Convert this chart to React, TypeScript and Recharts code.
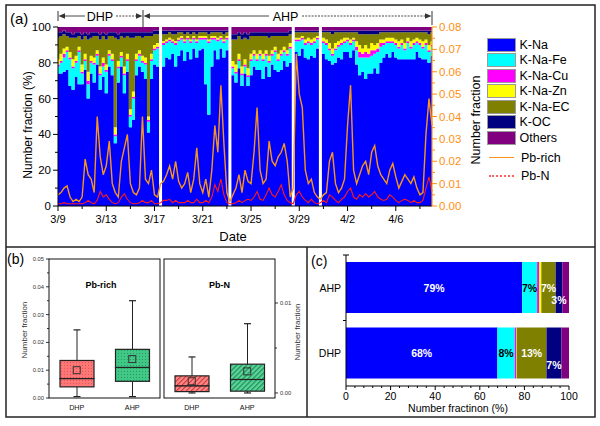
import React from 'react';
import { ComposedChart, BarChart, Bar, Area, Line, XAxis, YAxis, Legend, Scatter, LabelList } from 'recharts';

const FONT = '"Liberation Sans", Arial, sans-serif';

// ---------- Panel (a): time series, 4 samples per day from 3/9 ----------
const dateLabels = ['3/9', '3/13', '3/17', '3/21', '3/25', '3/29', '4/2', '4/6'];

const kNa = [
  74, 74, 75, 76, 67, 65, 72, 68,
  68, 76, 60, 74, 69, 79, 65, 72,
  63, 78, 73, 35, 69, 78, 63, 75,
  44, 48, 73, 78, 75, 71, 41, 71,
  79, 78, 0, 78, 83, 82, 85, 78,
  84, 87, 81, 86, 82, 88, 83, 87,
  88, 68, 51, 78, 87, 82, 88, 83,
  87, 0, 73, 69, 77, 67, 74, 67,
  73, 78, 76, 76, 71, 78, 72, 79,
  76, 75, 76, 81, 78, 80, 0, 86,
  84, 88, 83, 82, 84, 83, 88, 0,
  85, 82, 81, 79, 80, 83, 82, 86,
  86, 83, 87, 79, 73, 75, 71, 74,
  74, 77, 74, 80, 83, 85, 83, 86,
  83, 82, 82, 82, 82, 82, 82, 86,
  83, 82, 82, 80, 84,
];
const kNaFe = [
  4, 6, 8, 10, 15, 12, 8, 18,
  6, 5, 8, 6, 10, 5, 8, 6,
  12, 6, 8, 4, 8, 5, 10, 6,
  6, 12, 8, 6, 5, 8, 6, 10,
  8, 10, 0, 12, 8, 10, 6, 12,
  8, 6, 10, 7, 9, 5, 8, 6,
  5, 25, 40, 15, 6, 10, 5, 8,
  6, 0, 4, 5, 4, 6, 4, 5,
  8, 6, 5, 8, 10, 6, 8, 5,
  10, 6, 8, 5, 6, 8, 0, 6,
  8, 5, 7, 9, 6, 8, 5, 0,
  6, 8, 6, 5, 7, 6, 8, 5,
  6, 7, 5, 8, 10, 8, 12, 9,
  10, 8, 12, 9, 7, 6, 8, 5,
  7, 6, 8, 5, 9, 6, 8, 5,
  7, 6, 8, 6, 5,
];
const kNaCu = [
  1, 1, 2, 1, 1, 1, 1, 1,
  1, 1, 2, 1, 1, 1, 1, 2,
  1, 1, 1, 1, 1, 1, 1, 1,
  1, 1, 1, 1, 1, 1, 1, 1,
  1, 1, 0, 1, 1, 1, 1, 1,
  1, 1, 1, 1, 1, 1, 1, 1,
  1, 1, 1, 1, 1, 1, 1, 1,
  1, 0, 1, 1, 1, 1, 1, 1,
  1, 1, 1, 1, 1, 1, 1, 1,
  1, 1, 1, 1, 1, 1, 0, 1,
  1, 1, 1, 1, 1, 1, 1, 0,
  1, 1, 1, 1, 1, 1, 1, 1,
  1, 1, 1, 2, 3, 2, 3, 2,
  3, 2, 2, 2, 1, 1, 1, 1,
  1, 1, 1, 1, 1, 1, 1, 1,
  1, 1, 1, 1, 1,
];
const kNaZn = [
  3, 4, 3, 2, 3, 4, 3, 2,
  4, 3, 5, 3, 3, 2, 4, 3,
  3, 2, 3, 4, 3, 2, 4, 3,
  3, 3, 3, 2, 3, 3, 2, 3,
  2, 2, 0, 1, 1, 1, 1, 1,
  1, 1, 1, 1, 1, 1, 1, 1,
  1, 1, 1, 1, 1, 1, 1, 1,
  1, 0, 3, 4, 3, 4, 3, 4,
  3, 2, 3, 2, 3, 2, 3, 2,
  2, 3, 2, 2, 2, 2, 0, 1,
  1, 1, 2, 2, 2, 2, 1, 0,
  2, 2, 3, 3, 3, 2, 2, 2,
  1, 2, 1, 3, 4, 3, 4, 3,
  4, 3, 3, 2, 2, 2, 2, 2,
  2, 3, 2, 3, 2, 3, 2, 2,
  2, 3, 2, 3, 2,
];
const kNaEC = [
  12, 10, 8, 6, 8, 12, 10, 6,
  14, 10, 18, 10, 12, 8, 15, 12,
  14, 8, 10, 50, 12, 9, 16, 10,
  40, 30, 10, 8, 10, 12, 45, 10,
  6, 5, 0, 4, 3, 3, 3, 4,
  3, 2, 3, 2, 3, 2, 3, 2,
  2, 2, 3, 2, 2, 3, 2, 3,
  2, 0, 12, 14, 10, 15, 12, 16,
  10, 8, 10, 8, 10, 8, 10, 8,
  6, 10, 8, 6, 8, 5, 0, 3,
  3, 2, 4, 3, 4, 3, 2, 0,
  3, 4, 6, 8, 6, 5, 4, 3,
  3, 4, 3, 5, 6, 8, 6, 8,
  5, 6, 5, 4, 4, 3, 3, 3,
  4, 5, 4, 6, 3, 5, 4, 3,
  4, 5, 4, 6, 5,
];
const kOC = [
  3, 2, 2, 2, 3, 2, 3, 2,
  3, 2, 3, 3, 2, 2, 3, 2,
  3, 2, 2, 3, 3, 2, 3, 2,
  3, 3, 2, 2, 3, 2, 2, 2,
  2, 2, 0, 2, 2, 1, 2, 2,
  1, 1, 2, 1, 2, 1, 2, 1,
  1, 1, 2, 1, 1, 1, 1, 2,
  1, 0, 3, 3, 2, 3, 3, 3,
  2, 2, 2, 2, 2, 2, 3, 2,
  2, 2, 2, 2, 2, 2, 0, 1,
  1, 1, 1, 1, 1, 1, 1, 0,
  1, 1, 1, 2, 1, 1, 1, 1,
  1, 1, 1, 1, 2, 2, 2, 2,
  2, 2, 2, 1, 1, 1, 1, 1,
  1, 1, 1, 1, 1, 1, 1, 1,
  1, 1, 1, 2, 1,
];
const others = [
  3, 3, 2, 3, 3, 4, 3, 3,
  4, 3, 4, 3, 3, 3, 4, 3,
  4, 3, 3, 3, 4, 3, 3, 3,
  3, 3, 3, 3, 3, 3, 3, 3,
  2, 2, 0, 2, 2, 2, 2, 2,
  2, 2, 2, 2, 2, 2, 2, 2,
  2, 2, 2, 2, 2, 2, 2, 2,
  2, 0, 4, 4, 3, 4, 3, 4,
  3, 3, 3, 3, 3, 3, 3, 3,
  3, 3, 3, 3, 3, 2, 0, 2,
  2, 2, 2, 2, 2, 2, 2, 0,
  2, 2, 2, 2, 2, 2, 2, 2,
  2, 2, 2, 2, 2, 2, 2, 2,
  2, 2, 2, 2, 2, 2, 2, 2,
  2, 2, 2, 2, 2, 2, 2, 2,
  2, 2, 2, 2, 2,
];
const pbRich = [
  0.005, 0.006, 0.008, 0.009, 0.004, 0.002, 0.003, 0.002,
  0.004, 0.021, 0.014, 0.012, 0.006, 0.040, 0.022, 0.014,
  0.018, 0.029, 0.010, 0.006, 0.004, 0.020, 0.026, 0.032,
  0.010, 0.006, 0.005, 0.008, 0.040, 0.012, 0.010, 0.016,
  0.005, 0.004, 0.010, 0.011, 0.014, 0.018, 0.012, 0.020,
  0.011, 0.008, 0.010, 0.015, 0.006, 0.012, 0.026, 0.010,
  0.006, 0.012, 0.004, 0.016, 0.036, 0.024, 0.054, 0.028,
  0.006, 0.002, 0.005, 0.008, 0.014, 0.006, 0.016, 0.011,
  0.010, 0.024, 0.044, 0.016, 0.010, 0.012, 0.029, 0.020,
  0.018, 0.022, 0.024, 0.028, 0.020, 0.004, 0.008, 0.068,
  0.050, 0.044, 0.016, 0.010, 0.012, 0.006, 0.004, 0.003,
  0.005, 0.006, 0.020, 0.024, 0.010, 0.006, 0.008, 0.012,
  0.036, 0.054, 0.016, 0.010, 0.014, 0.018, 0.020, 0.014,
  0.024, 0.027, 0.018, 0.014, 0.012, 0.010, 0.016, 0.019,
  0.013, 0.008, 0.011, 0.014, 0.012, 0.010, 0.013, 0.008,
  0.005, 0.006, 0.032, 0.048, 0.036,
];
const pbN = [
  0.001, 0.001, 0.0015, 0.001, 0.001, 0.001, 0.001, 0.001,
  0.001, 0.0015, 0.0025, 0.0015, 0.001, 0.0025, 0.0065, 0.004,
  0.005, 0.003, 0.0015, 0.001, 0.0015, 0.004, 0.0055, 0.003,
  0.0015, 0.001, 0.001, 0.0015, 0.0025, 0.0015, 0.0015, 0.0025,
  0.001, 0.001, 0.0015, 0.0025, 0.0025, 0.003, 0.0015, 0.0025,
  0.0015, 0.0015, 0.0015, 0.0025, 0.0015, 0.0015, 0.003, 0.0015,
  0.0015, 0.0025, 0.0015, 0.004, 0.0095, 0.0065, 0.012, 0.005,
  0.0015, 0.001, 0.001, 0.0015, 0.0025, 0.0015, 0.0025, 0.003,
  0.0025, 0.004, 0.0065, 0.003, 0.0025, 0.005, 0.008, 0.005,
  0.004, 0.0065, 0.0095, 0.005, 0.0025, 0.0015, 0.001, 0.005,
  0.0065, 0.004, 0.0025, 0.0015, 0.003, 0.0015, 0.001, 0.0015,
  0.0025, 0.0015, 0.005, 0.004, 0.0025, 0.0015, 0.003, 0.004,
  0.0065, 0.008, 0.004, 0.003, 0.005, 0.004, 0.0055, 0.004,
  0.005, 0.0065, 0.004, 0.003, 0.0025, 0.003, 0.005, 0.004,
  0.0025, 0.0015, 0.0025, 0.003, 0.0025, 0.0015, 0.0025, 0.0015,
  0.0015, 0.0025, 0.008, 0.013, 0.0065,
];

const xTicks = [0, 8, 16, 24, 32, 40, 48, 56, 64, 72, 80, 88, 96, 104, 112, 120];
const leftTicks = [0, 10, 20, 30, 40, 50, 60, 70, 80, 90, 100];
const rightTicks = [0, 0.005, 0.01, 0.015, 0.02, 0.025, 0.03, 0.035, 0.04, 0.045, 0.05, 0.055, 0.06, 0.065, 0.07, 0.075, 0.08];

const stackSeries = [
  { key: 'kNa', name: 'K-Na', color: '#0000FF', values: kNa },
  { key: 'fe', name: 'K-Na-Fe', color: '#00FFFF', values: kNaFe },
  { key: 'cu', name: 'K-Na-Cu', color: '#FF00FF', values: kNaCu },
  { key: 'zn', name: 'K-Na-Zn', color: '#FFFF00', values: kNaZn },
  { key: 'ec', name: 'K-Na-EC', color: '#808000', values: kNaEC },
  { key: 'oc', name: 'K-OC', color: '#000080', values: kOC },
  { key: 'oth', name: 'Others', color: '#800080', values: others },
];
const lineSeries = [
  { key: 'pbRich', name: 'Pb-rich', color: '#F7941D', values: pbRich, width: 1.4 },
  { key: 'pbN', name: 'Pb-N', color: '#FF1A1A', values: pbN, width: 1.1 },
];

const timeData = kNa.map((_, i) => {
  const row: any = { i };
  stackSeries.forEach((s) => { row[s.key] = s.values[i]; });
  lineSeries.forEach((s) => { row[s.key] = s.values[i]; });
  return row;
});

// ---------- Panel (b): box plots ----------
const boxCats = ['DHP', 'AHP'];
const pbRichMin = [0.0005, 0.0005];
const pbRichQ1 = [0.004, 0.006];
const pbRichMed = [0.007, 0.011];
const pbRichQ3 = [0.0135, 0.0175];
const pbRichMax = [0.0245, 0.035];
const pbRichMean = [0.010, 0.014];
const pbNMin = [0, 0];
const pbNQ1 = [0.00015, 0.0002];
const pbNMed = [0.0008, 0.0015];
const pbNQ3 = [0.0019, 0.0032];
const pbNMax = [0.0040, 0.0077];
const pbNMean = [0.0013, 0.0024];
const richTicks = [0, 0.005, 0.01, 0.015, 0.02, 0.025, 0.03, 0.035, 0.04, 0.045, 0.05];
const nTicks = [0, 0.005, 0.01];

const makeBoxRows = (mn: number[], q1: number[], md: number[], q3: number[], mx: number[], mean: number[], pats: string[]) =>
  boxCats.map((c, i) => ({
    cat: c,
    base: mn[i],
    lw: q1[i] - mn[i],
    lb: md[i] - q1[i],
    ub: q3[i] - md[i],
    uw: mx[i] - q3[i],
    mean: mean[i],
    pat: pats[i],
  }));
const richRows = makeBoxRows(pbRichMin, pbRichQ1, pbRichMed, pbRichQ3, pbRichMax, pbRichMean, ['dotRed', 'dotGreen']);
const nRows = makeBoxRows(pbNMin, pbNQ1, pbNMed, pbNQ3, pbNMax, pbNMean, ['hatchRed', 'hatchGreen']);

// ---------- Panel (c): average composition ----------
const compCats = ['AHP', 'DHP'];
const compKNa = [79.0, 67.9];
const compFe = [6.7, 7.8];
const compCu = [0.9, 0.7];
const compZn = [1.0, 0.2];
const compEC = [6.4, 13.3];
const compOC = [3.0, 6.7];
const compOth = [3.0, 3.4];
const compLabelKNa = ['79%', '68%'];
const compLabelFe = ['7%', '8%'];
const compLabelEC = ['7%', '13%'];
const compLabelOC = ['3%', '7%'];
const compTicks = [0, 4, 8, 12, 16, 20, 24, 28, 32, 36, 40, 44, 48, 52, 56, 60, 64, 68, 72, 76, 80, 84, 88, 92, 96, 100];

const compData = compCats.map((c, i) => ({
  cat: c,
  kNa: compKNa[i], fe: compFe[i], cu: compCu[i], zn: compZn[i], ec: compEC[i], oc: compOC[i], oth: compOth[i],
  lKNa: compLabelKNa[i], lFe: compLabelFe[i], lEC: compLabelEC[i], lOC: compLabelOC[i],
}));

// ---------- ticks ----------
const XTick = (p: any) => {
  const { x, y, payload } = p;
  const off = payload && payload.offset ? payload.offset : 0;
  const xx = x - off;
  const v = payload.value;
  const major = v % 16 === 0;
  return (
    <g>
      <line x1={xx} x2={xx} y1={y} y2={y + (major ? 5 : 3)} stroke="#000" strokeWidth={1} />
      {major && (
        <text x={xx} y={y + 17} textAnchor="middle" fontSize={11} fontFamily={FONT} fill="#000">{dateLabels[v / 16]}</text>
      )}
    </g>
  );
};
const LeftTick = (p: any) => {
  const { x, y, payload } = p;
  const v = payload.value;
  const major = v % 20 === 0;
  return (
    <g>
      <line x1={x - (major ? 5 : 3)} x2={x} y1={y} y2={y} stroke="#000" strokeWidth={1} />
      {major && (
        <text x={x - 7} y={y + 4} textAnchor="end" fontSize={11.5} fontFamily={FONT} fill="#000">{v}</text>
      )}
    </g>
  );
};
const RightTick = (p: any) => {
  const { x, y, payload } = p;
  const v = payload.value;
  const major = Math.round(v * 1000) % 10 === 0;
  return (
    <g>
      <line x1={x} x2={x + (major ? 5 : 3)} y1={y} y2={y} stroke="#FF9010" strokeWidth={1} />
      {major && (
        <text x={x + 7} y={y + 4} textAnchor="start" fontSize={11.5} fontFamily={FONT} fill="#FF9010">{v.toFixed(2)}</text>
      )}
    </g>
  );
};
const BoxLeftTick = (p: any) => {
  const { x, y, payload } = p;
  const v = payload.value;
  const major = Math.round(v * 1000) % 10 === 0;
  return (
    <g>
      <line x1={x - (major ? 3 : 2)} x2={x} y1={y} y2={y} stroke="#000" strokeWidth={0.8} />
      {major && (
        <text x={x - 5} y={y + 2} textAnchor="end" fontSize={5.8} fontFamily={FONT} fill="#333">{v.toFixed(2)}</text>
      )}
    </g>
  );
};
const BoxRightTick = (p: any) => {
  const { x, y, payload } = p;
  const v = payload.value;
  const major = Math.round(v * 1000) % 10 === 0;
  return (
    <g>
      <line x1={x} x2={x + (major ? 3 : 2)} y1={y} y2={y} stroke="#000" strokeWidth={0.8} />
      {major && (
        <text x={x + 5} y={y + 2} textAnchor="start" fontSize={5.8} fontFamily={FONT} fill="#333">{v.toFixed(2)}</text>
      )}
    </g>
  );
};
const BoxXTick = (p: any) => {
  const { x, y, payload } = p;
  return <text x={x} y={y + 12} textAnchor="middle" fontSize={7.2} fontFamily={FONT} fill="#111">{payload.value}</text>;
};
const CompXTick = (p: any) => {
  const { x, y, payload } = p;
  const v = payload.value;
  const major = v % 20 === 0;
  return (
    <g>
      <line x1={x} x2={x} y1={y} y2={y + (major ? 4 : 2)} stroke="#000" strokeWidth={1} />
      {major && (
        <text x={x} y={y + 14} textAnchor="middle" fontSize={10.5} fontFamily={FONT} fill="#000">{v}</text>
      )}
    </g>
  );
};
const CompYTick = (p: any) => {
  const { x, y, payload } = p;
  return <text x={x - 5} y={y + 4} textAnchor="end" fontSize={10.5} fontFamily={FONT} fill="#000">{payload.value}</text>;
};

// ---------- box plot shapes ----------
const whisker = (top: boolean) => (p: any) => {
  const { x, y, width, height } = p;
  if (width == null || y == null) return <g />;
  const cx = x + width / 2;
  const capY = top ? y : y + height;
  return (
    <g>
      <line x1={cx} x2={cx} y1={y} y2={y + height} stroke="#222" strokeWidth={1} />
      <line x1={cx - 3.5} x2={cx + 3.5} y1={capY} y2={capY} stroke="#222" strokeWidth={1.2} />
    </g>
  );
};
const boxShape = (p: any) => {
  const { x, y, width, height, payload } = p;
  if (width == null || y == null) return <g />;
  return <rect x={x} y={y} width={width} height={height} fill={`url(#${payload.pat})`} stroke="#222" strokeWidth={1.2} />;
};
const meanShape = (p: any) => (
  <rect x={p.cx - 3.5} y={p.cy - 3.5} width={7} height={7} fill="none" stroke="#333" strokeWidth={1} />
);

const BoxChart = ({ rows, right }: { rows: any[]; right: boolean }) => (
  <ComposedChart
    width={right ? 150 : 160}
    height={165}
    data={rows}
    margin={right ? { top: 9, right: 11, left: 6, bottom: 0 } : { top: 9, right: 6, left: 23, bottom: 0 }}
  >
    <XAxis dataKey="cat" type="category" axisLine={false} tickLine={false} tickSize={0} tickMargin={0} height={17} tick={(p: any) => <BoxXTick {...p} />} interval={0} />
    {right ? (
      <YAxis orientation="right" type="number" domain={[-0.00056, 0.01489]} allowDataOverflow ticks={nTicks} interval={0} width={22} axisLine={false} tickLine={false} tickSize={0} tickMargin={0} tick={(p: any) => <BoxRightTick {...p} />} />
    ) : (
      <YAxis type="number" domain={[0, 0.05]} allowDataOverflow ticks={richTicks} interval={0} width={20} axisLine={false} tickLine={false} tickSize={0} tickMargin={0} tick={(p: any) => <BoxLeftTick {...p} />} />
    )}
    <Bar dataKey="base" stackId="b" fill="none" barSize={34} isAnimationActive={false} />
    <Bar dataKey="lw" stackId="b" barSize={34} shape={whisker(false)} isAnimationActive={false} />
    <Bar dataKey="lb" stackId="b" barSize={34} shape={boxShape} isAnimationActive={false} />
    <Bar dataKey="ub" stackId="b" barSize={34} shape={boxShape} isAnimationActive={false} />
    <Bar dataKey="uw" stackId="b" barSize={34} shape={whisker(true)} isAnimationActive={false} />
    <Scatter dataKey="mean" shape={meanShape} isAnimationActive={false} />
  </ComposedChart>
);

const compLabel = (color: string, dy: number) => (p: any) => {
  const { x, y, width, height, value } = p;
  if (!value) return null;
  return (
    <text x={x + width / 2} y={y + height / 2 + 4 + dy} textAnchor="middle" fontSize={10.5} fontWeight="bold" fontFamily={FONT} fill={color}>{value}</text>
  );
};

const renderLegend = () => (
  <div style={{ fontFamily: FONT, fontSize: 12.5, color: '#000' }}>
    {stackSeries.map((s) => (
      <div key={s.key} style={{ display: 'flex', alignItems: 'center', height: 15.5 }}>
        <div style={{ width: 28.5, height: 14, background: s.color, border: '1px solid #9a9a9a', boxSizing: 'border-box' }} />
        <span style={{ marginLeft: 4, whiteSpace: 'nowrap' }}>{s.name}</span>
      </div>
    ))}
    <div style={{ height: 3 }} />
    {lineSeries.map((s) => (
      <div key={s.key} style={{ display: 'flex', alignItems: 'center', height: 18 }}>
        <div style={{ width: 25, marginLeft: 2, height: 0, borderTop: `${s.key === 'pbN' ? 2 : 1.2}px ${s.key === 'pbN' ? 'dotted' : 'solid'} ${s.key === 'pbN' ? '#FF6060' : s.color}` }} />
        <span style={{ marginLeft: 7, whiteSpace: 'nowrap' }}>{s.name}</span>
      </div>
    ))}
  </div>
);

export default function App() {
  return (
    <div style={{ position: 'absolute', left: 0, top: 0, width: 600, height: 426, background: '#fff', fontFamily: FONT, overflow: 'hidden' }}>
      <svg width={0} height={0} style={{ position: 'absolute' }}>
        <defs>
          <pattern id="dotRed" width={3} height={3} patternUnits="userSpaceOnUse">
            <rect width={3} height={3} fill="#FF7676" />
            <rect x={1} y={1} width={0.8} height={0.8} fill="#C84848" />
          </pattern>
          <pattern id="dotGreen" width={3} height={3} patternUnits="userSpaceOnUse">
            <rect width={3} height={3} fill="#40C986" />
            <rect x={1} y={1} width={0.8} height={0.8} fill="#237A4F" />
          </pattern>
          <pattern id="hatchRed" width={3.5} height={3.5} patternUnits="userSpaceOnUse" patternTransform="rotate(45)">
            <rect width={3.5} height={3.5} fill="#FF8A8A" />
            <line x1={0.6} y1={0} x2={0.6} y2={3.5} stroke="#D23A3A" strokeWidth={1.2} />
          </pattern>
          <pattern id="hatchGreen" width={3.5} height={3.5} patternUnits="userSpaceOnUse" patternTransform="rotate(45)">
            <rect width={3.5} height={3.5} fill="#5BD49A" />
            <line x1={0.6} y1={0} x2={0.6} y2={3.5} stroke="#1F8C57" strokeWidth={1.2} />
          </pattern>
        </defs>
      </svg>

      {/* Panel (a) */}
      <div style={{ position: 'absolute', left: 0, top: 0 }}>
        <ComposedChart width={600} height={247} data={timeData} margin={{ top: 27, right: 128, bottom: 11, left: 18 }}>
          <XAxis dataKey="i" type="category" ticks={xTicks} interval={0} height={30} tickLine={false} tickSize={0} tickMargin={0} axisLine={{ stroke: '#000', strokeWidth: 1 }} tick={(p: any) => <XTick {...p} />} />
          <YAxis yAxisId="left" type="number" domain={[0, 100]} allowDataOverflow ticks={leftTicks} interval={0} width={40} tickLine={false} tickSize={0} tickMargin={0} axisLine={{ stroke: '#000', strokeWidth: 1 }} tick={(p: any) => <LeftTick {...p} />} />
          <YAxis yAxisId="right" orientation="right" type="number" domain={[0, 0.08]} allowDataOverflow ticks={rightTicks} interval={0} width={40} tickLine={false} tickSize={0} tickMargin={0} axisLine={{ stroke: '#FF9010', strokeWidth: 1.2 }} tick={(p: any) => <RightTick {...p} />} />
          {stackSeries.map((s) => (
            <Area key={s.key} yAxisId="left" type="step" dataKey={s.key} name={s.name} stackId="s" fill={s.color} fillOpacity={1} stroke="none" dot={false} activeDot={false} isAnimationActive={false} />
          ))}
          {lineSeries.map((s) => (
            <Line key={s.key} yAxisId="right" type="linear" dataKey={s.key} name={s.name} stroke={s.color} strokeWidth={s.width} dot={false} activeDot={false} isAnimationActive={false} />
          ))}
          <Legend layout="vertical" align="center" verticalAlign="middle" content={renderLegend} wrapperStyle={{ left: 487, top: 37, width: 110, height: 'auto' }} />
        </ComposedChart>
      </div>

      {/* Panel (b) */}
      <div style={{ position: 'absolute', left: 6, top: 250 }}>
        <BoxChart rows={richRows} right={false} />
      </div>
      <div style={{ position: 'absolute', left: 158, top: 250 }}>
        <BoxChart rows={nRows} right={true} />
      </div>

      {/* Panel (c) */}
      <div style={{ position: 'absolute', left: 307, top: 247 }}>
        <BarChart layout="vertical" width={288} height={170} data={compData} margin={{ top: 8, right: 26, left: 9, bottom: 0 }} barSize={51}>
          <XAxis type="number" domain={[0, 100]} ticks={compTicks} interval={0} height={31} tickLine={false} tickSize={0} tickMargin={0} axisLine={{ stroke: '#000', strokeWidth: 1 }} tick={(p: any) => <CompXTick {...p} />} />
          <YAxis type="category" dataKey="cat" width={30} tickLine={false} tickSize={0} tickMargin={0} axisLine={{ stroke: '#000', strokeWidth: 1 }} tick={(p: any) => <CompYTick {...p} />} />
          <Bar dataKey="kNa" stackId="c" fill="#0000FF" isAnimationActive={false}>
            <LabelList dataKey="lKNa" content={compLabel('#FFFFFF', 0)} />
          </Bar>
          <Bar dataKey="fe" stackId="c" fill="#00FFFF" isAnimationActive={false}>
            <LabelList dataKey="lFe" content={compLabel('#000000', 0)} />
          </Bar>
          <Bar dataKey="cu" stackId="c" fill="#FF00FF" isAnimationActive={false} />
          <Bar dataKey="zn" stackId="c" fill="#FFFF00" isAnimationActive={false} />
          <Bar dataKey="ec" stackId="c" fill="#808000" isAnimationActive={false}>
            <LabelList dataKey="lEC" content={compLabel('#FFFFFF', 0)} />
          </Bar>
          <Bar dataKey="oc" stackId="c" fill="#000080" isAnimationActive={false}>
            <LabelList dataKey="lOC" content={compLabel('#FFFFFF', 12)} />
          </Bar>
          <Bar dataKey="oth" stackId="c" fill="#800080" isAnimationActive={false} />
        </BarChart>
      </div>

      {/* decorations, frames and titles */}
      <svg width={600} height={426} style={{ position: 'absolute', left: 0, top: 0, pointerEvents: 'none' }} fontFamily={FONT}>
        <rect x={6} y={5} width={589} height={412} fill="none" stroke="#222" strokeWidth={1.5} />
        <line x1={6} x2={595} y1={247} y2={247} stroke="#222" strokeWidth={1.5} />
        <line x1={307} x2={307} y1={247} y2={417} stroke="#222" strokeWidth={1.5} />

        {/* (a) */}
        <text x={10} y={24} fontSize={15} fill="#000">(a)</text>
        <line x1={58} x2={58} y1={11} y2={21} stroke="#333" strokeWidth={1} />
        <polygon points="58.5,16 65,13.2 65,18.8" fill="#333" />
        <line x1={64} x2={85} y1={16} y2={16} stroke="#333" strokeWidth={0.9} />
        <text x={100} y={20.5} fontSize={12.5} textAnchor="middle" fill="#000">DHP</text>
        <line x1={116} x2={137} y1={16} y2={16} stroke="#333" strokeWidth={0.9} strokeDasharray="2,1.2" />
        <polygon points="142.5,16 136,13.2 136,18.8" fill="#333" />
        <line x1={143} x2={143} y1={10} y2={27} stroke="#333" strokeWidth={1} />
        <polygon points="143.5,16 150,13.2 150,18.8" fill="#333" />
        <line x1={149} x2={269} y1={16} y2={16} stroke="#333" strokeWidth={0.9} />
        <text x={285.5} y={20.5} fontSize={12.5} textAnchor="middle" fill="#000">AHP</text>
        <line x1={302} x2={426} y1={16} y2={16} stroke="#333" strokeWidth={0.9} strokeDasharray="2,1.2" />
        <polygon points="431.5,16 425,13.2 425,18.8" fill="#333" />
        <line x1={432} x2={432} y1={11} y2={25} stroke="#333" strokeWidth={1} />
        <text transform="translate(32,125) rotate(-90)" fontSize={12} textAnchor="middle" fill="#000">Number fraction (%)</text>
        <text transform="translate(480,120) rotate(-90)" fontSize={12.5} textAnchor="middle" fill="#000">Number fraction</text>
        <text x={233} y={241} fontSize={13} textAnchor="middle" fill="#000">Date</text>

        {/* (b) */}
        <text x={7} y={264} fontSize={14} fill="#000">(b)</text>
        <rect x={49} y={259} width={111} height={139} fill="none" stroke="#111" strokeWidth={1} />
        <rect x={164} y={259} width={111} height={139} fill="none" stroke="#111" strokeWidth={1} />
        <text x={101} y={287.5} fontSize={9} fontWeight="bold" textAnchor="middle" fill="#000">Pb-rich</text>
        <text x={219.5} y={287.5} fontSize={9} fontWeight="bold" textAnchor="middle" fill="#000">Pb-N</text>
        <text transform="translate(27,330) rotate(-90)" fontSize={8} textAnchor="middle" fill="#333">Number fraction</text>
        <text transform="translate(299.5,332) rotate(-90)" fontSize={8} textAnchor="middle" fill="#333">Number fraction</text>

        {/* (c) */}
        <text x={311} y={266} fontSize={14} fill="#000">(c)</text>
        <line x1={343} x2={349} y1={255} y2={255} stroke="#000" strokeWidth={1} />
        <line x1={343} x2={346} y1={320.5} y2={320.5} stroke="#000" strokeWidth={1} />
        <text x={458} y={411.5} fontSize={10.5} textAnchor="middle" fill="#000">Number fractinon (%)</text>
      </svg>
    </div>
  );
}
